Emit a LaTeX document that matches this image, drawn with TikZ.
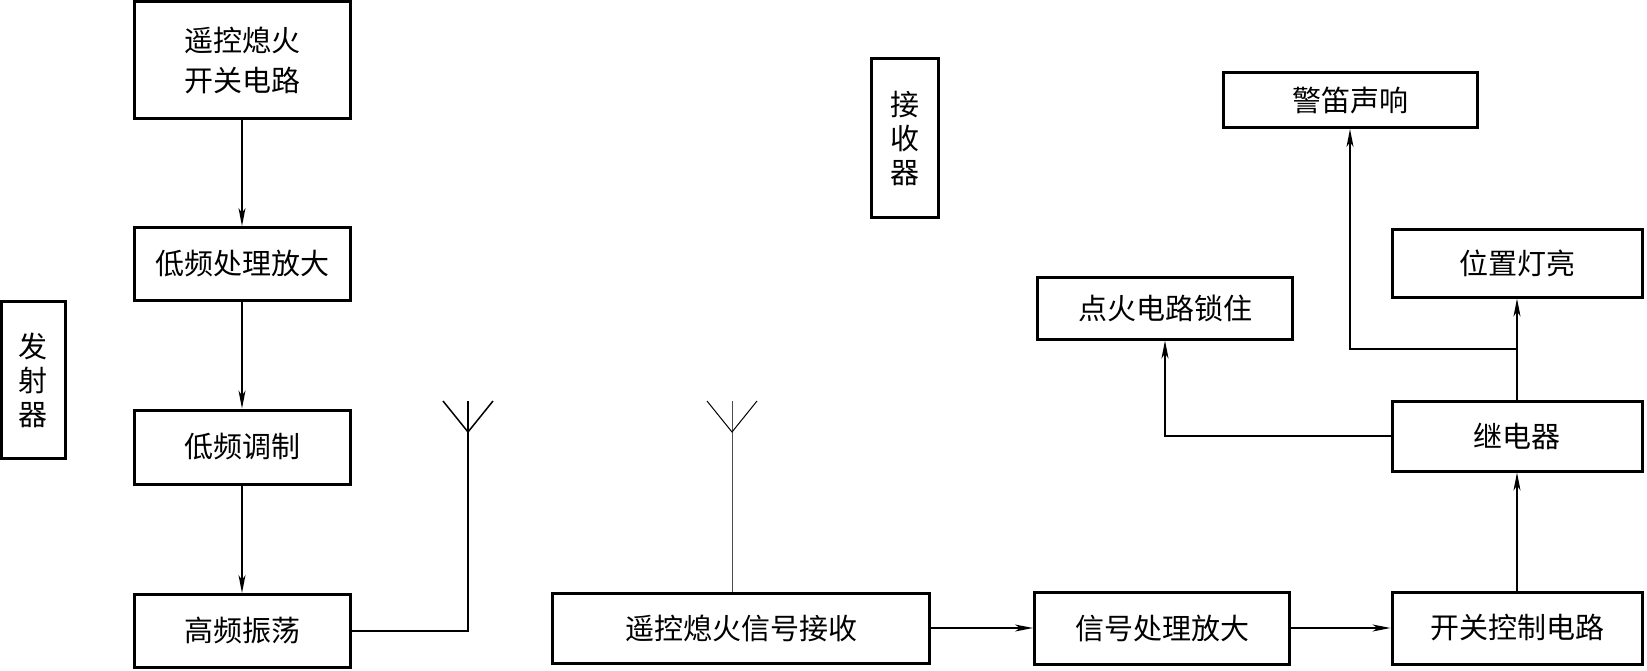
\documentclass[tikz,border=0pt]{standalone}
\usepackage{fontspec}
\setmainfont{Noto Sans CJK SC}
\usetikzlibrary{
    arrows.meta,
    calc,
    positioning
}
\tikzset{
    blk/.style={draw, line width=3pt, inner sep=0pt, align=center,
        font=\fontsize{29}{34}\selectfont},
    arr/.style={-{Stealth[length=18pt, width=7pt, inset=5pt]}, line width=1.5pt},
    ln/.style={line width=1.5pt}
}

\begin{document}
\begin{tikzpicture}[x=1pt, y=-1pt]
    \useasboundingbox (0,0) rectangle (1647,670);
    % transmitter
    \node[blk, minimum width=64pt, minimum height=157pt] (tx) at (33,380) {发\\射\\器};
    \node[blk, minimum width=216pt, minimum height=117pt, font=\fontsize{29}{40}\selectfont] (sw) at (242,60) {遥控熄火\\开关电路};
    \node[blk, minimum width=216pt, minimum height=73pt] (lf) at (242,264) {低频处理放大};
    \node[blk, minimum width=216pt, minimum height=74pt] (mod) at (242,447) {低频调制};
    \node[blk, minimum width=216pt, minimum height=73pt] (hf) at (242,631) {高频振荡};
    \draw
    (sw) edge[arr] (lf)
    (lf) edge[arr] (mod)
    (mod) edge[arr] (hf);
    \coordinate (ant1) at (468,401);
    \draw[ln] (hf.east) -| (ant1);
    \draw[ln] ($(ant1)+(-25,0)$) -- ($(ant1)+(0,31)$) -- ($(ant1)+(25,0)$);
    % receiver
    \node[blk, minimum width=67pt, minimum height=159pt] (rxl) at (905,138) {接\\收\\器};
    \node[blk, minimum width=377pt, minimum height=70pt] (rx) at (741,628) {遥控熄火信号接收};
    \node[blk, minimum width=255pt, minimum height=72pt] (sig) at (1162,628) {信号处理放大};
    \node[blk, minimum width=250pt, minimum height=72pt] (ctl) at (1517,628) {开关控制电路};
    \node[blk, minimum width=250pt, minimum height=70pt] (rel) at (1517,436) {继电器};
    \node[blk, minimum width=250pt, minimum height=68pt] (lamp) at (1517,263) {位置灯亮};
    \node[blk, minimum width=254pt, minimum height=55pt] (horn) at (1350,100) {警笛声响};
    \node[blk, minimum width=255pt, minimum height=62pt] (lock) at (1165,308) {点火电路锁住};
    \coordinate (ant2) at (732,401);
    \draw[line width=1pt, black!70] (ant2 |- rx.north) -- (ant2);
    \draw[line width=1pt] ($(ant2)+(-25,0)$) -- ($(ant2)+(0,31)$) -- ($(ant2)+(25,0)$);
    \draw
    (rx) edge[arr] (sig)
    (sig) edge[arr] (ctl)
    (ctl) edge[arr] (rel)
    (rel) edge[arr] (lamp);
    \coordinate (br) at ($(rel.north)!0.5!(lamp.south)$);
    \draw[arr] (br) -| (horn.south);
    \draw[arr] (rel.west) -| (lock.south);
\end{tikzpicture}
\end{document}
